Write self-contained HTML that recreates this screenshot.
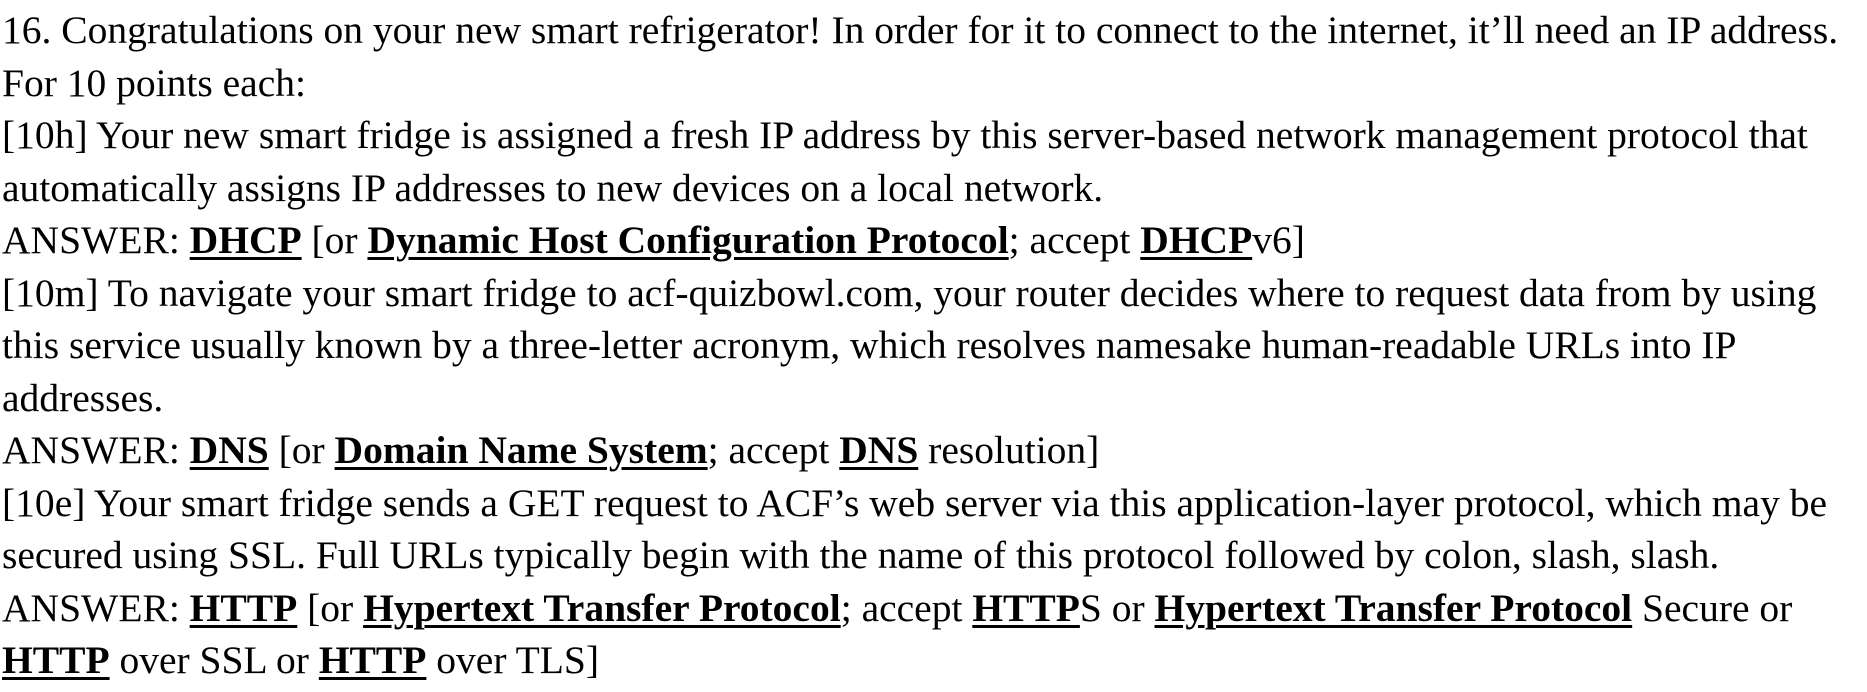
<!DOCTYPE html>
<html><head><meta charset="utf-8"><style>
html,body{margin:0;padding:0;background:#fff;width:1867px;height:687px;overflow:hidden}
body{font-family:"Liberation Serif",serif;font-size:39px;line-height:52.5px;color:#000;padding-top:5px;}
#w{transform:scaleX(1.013);transform-origin:0 0}
div{white-space:nowrap;padding-left:1px}
b{text-decoration:underline;text-decoration-thickness:3px;text-underline-offset:4px}
</style></head><body><div id="w">
<div>16. Congratulations on your new smart refrigerator! In order for it to connect to the internet, it’ll need an IP address.</div>
<div>For 10 points each:</div>
<div>[10h] Your new smart fridge is assigned a fresh IP address by this server-based network management protocol that</div>
<div>automatically assigns IP addresses to new devices on a local network.</div>
<div>ANSWER: <b>DHCP</b> [or <b>Dynamic Host Configuration Protocol</b>; accept <b>DHCP</b>v6]</div>
<div>[10m] To navigate your smart fridge to acf-quizbowl.com, your router decides where to request data from by using</div>
<div>this service usually known by a three-letter acronym, which resolves namesake human-readable URLs into IP</div>
<div>addresses.</div>
<div>ANSWER: <b>DNS</b> [or <b>Domain Name System</b>; accept <b>DNS</b> resolution]</div>
<div>[10e] Your smart fridge sends a GET request to ACF’s web server via this application-layer protocol, which may be</div>
<div>secured using SSL. Full URLs typically begin with the name of this protocol followed by colon, slash, slash.</div>
<div>ANSWER: <b>HTTP</b> [or <b>Hypertext Transfer Protocol</b>; accept <b>HTTP</b>S or <b>Hypertext Transfer Protocol</b> Secure or</div>
<div><b>HTTP</b> over SSL or <b>HTTP</b> over TLS]</div>
</div></body></html>
